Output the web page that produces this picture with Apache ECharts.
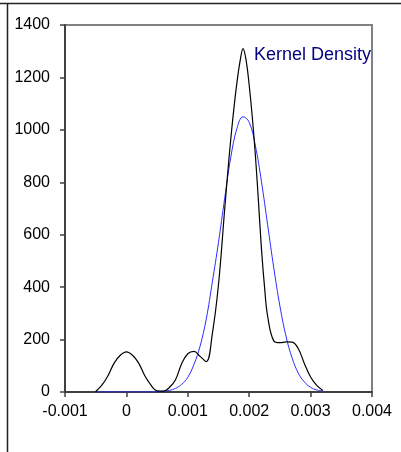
<!DOCTYPE html>
<html>
<head>
<meta charset="utf-8">
<script src="https://cdn.jsdelivr.net/npm/echarts@6/dist/echarts.min.js"></script>
<style>
  html, body { margin: 0; padding: 0; background: #fff; }
  #chart { width: 401px; height: 452px; }
</style>
</head>
<body>
<div id="chart"></div>
<script>
// x positions of the density estimates (read at 0.0001 steps)
const xs = [
  -0.0005, -0.0004, -0.0003, -0.0002, -0.0001, 0, 0.0001, 0.0002, 0.0003, 0.0004,
  0.0005, 0.0006, 0.0007, 0.0008, 0.0009, 0.001, 0.0011, 0.0012, 0.0013, 0.0014,
  0.0015, 0.0016, 0.0017, 0.0018, 0.0019, 0.002, 0.0021, 0.0022, 0.0023, 0.0024,
  0.0025, 0.0026, 0.0027, 0.0028, 0.0029, 0.003, 0.0031, 0.0032
]

// kernel density (black)
const kernel = [
  2, 26, 62, 110, 140, 153, 140, 110, 62, 26,
  4, 3, 17, 47, 108, 146, 155, 136, 116, 223,
  410, 695, 965, 1180, 1310, 1170, 905, 545, 290, 195,
  188, 191, 190, 165, 108, 57, 25, 6
]

// extra kernel readings around the main peak (half steps)
const kernelExtraX = [0.00165, 0.00175, 0.00185, 0.00195, 0.00205, 0.00215, 0.00225]
const kernelExtra = [835, 1080, 1260, 1265, 1050, 730, 400]

// fitted normal (blue)
const normal = [
  0, 0, 0, 0, 0, 0, 0, 0, 0, 0,
  1, 3, 6, 14, 29, 56, 105, 175, 278, 420,
  571, 738, 895, 1005, 1050, 1029, 940, 802, 638, 474,
  328, 212, 129, 72, 38, 18, 8, 4
]

const xTicks = { min: -0.001, max: 0.004, interval: 0.001 }
const yTicks = { min: 0, max: 1400, interval: 200 }

const kernelData = xs.map((x, i) => [x, kernel[i]])
  .concat(kernelExtraX.map((x, i) => [x, kernelExtra[i]]))
  .sort((a, b) => a[0] - b[0])

const chart = echarts.init(document.getElementById('chart'), null, { renderer: 'canvas' })

const axisColor = '#404040'
const font = 'Liberation Sans, Arial, sans-serif'

chart.setOption({
  animation: false,
  grid: {
    left: 65,
    top: 25,
    width: 307,
    height: 367,
    show: true,
    borderColor: '#808080',
    borderWidth: 2,
  },
  xAxis: {
    type: 'value',
    ...xTicks,
    axisLine: { show: true, onZero: false, lineStyle: { color: axisColor, width: 2 } },
    axisTick: { show: true, length: 5, lineStyle: { color: axisColor, width: 1.5 } },
    splitLine: { show: false },
    axisLabel: {
      margin: 12,
      color: '#000',
      fontSize: 16,
      fontFamily: font,
      formatter: v => String(+v.toFixed(3)),
    },
  },
  yAxis: {
    type: 'value',
    ...yTicks,
    axisLine: { show: true, onZero: false, lineStyle: { color: axisColor, width: 2 } },
    axisTick: { show: true, length: 5, lineStyle: { color: axisColor, width: 1.5 } },
    splitLine: { show: false },
    axisLabel: {
      margin: 15,
      color: '#000',
      fontSize: 16,
      fontFamily: font,
      formatter: v => String(v),
    },
  },
  series: [
    {
      type: 'line',
      data: xs.map((x, i) => [x, normal[i]]),
      smooth: 0.4,
      showSymbol: false,
      lineStyle: { color: '#2b2bff', width: 1 },
      z: 2,
    },
    {
      type: 'line',
      data: kernelData,
      smooth: 0.4,
      showSymbol: false,
      lineStyle: { color: '#000', width: 1.2 },
      z: 3,
    },
  ],
  graphic: [
    // outer frame (top and left)
    { type: 'line', shape: { x1: 0, y1: 3.5, x2: 401, y2: 3.5 }, style: { stroke: '#222', lineWidth: 1.5 } },
    { type: 'line', shape: { x1: 7.5, y1: 3.5, x2: 7.5, y2: 452 }, style: { stroke: '#222', lineWidth: 1.5 } },
    {
      type: 'text',
      left: 254,
      top: 46,
      style: { text: 'Kernel Density', fill: '#000080', font: '18px ' + font },
    },
  ],
})
</script>
</body>
</html>
